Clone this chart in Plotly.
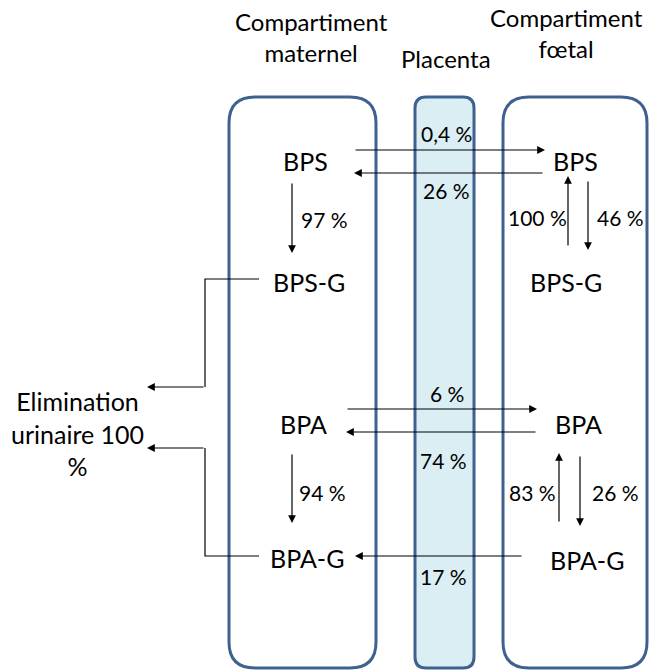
import plotly.graph_objects as go

# ---- data ----
compartments = ["Compartiment<br>maternel", "Placenta", "Compartiment<br>fœtal"]
maternal_species = ["BPS", "BPS-G", "BPA", "BPA-G"]
fetal_species = ["BPS", "BPS-G", "BPA", "BPA-G"]
transfer_labels = ["0,4 %", "26 %", "6 %", "74 %", "17 %"]
maternal_conj = ["97 %", "94 %"]
fetal_deconj = ["100 %", "83 %"]
fetal_conj = ["46 %", "26 %"]
elimination_label = "Elimination<br>urinaire 100<br>%"

W, H = 649, 672
BORDER = "#3F6190"
FONT = "Lato"
SP = 25    # species font size
PC = 21    # percentage font size
TT = 24    # title font size

fig = go.Figure()
fig.add_trace(go.Scatter(x=[0, W], y=[0, H], mode="markers", marker=dict(opacity=0),
                         hoverinfo="skip", showlegend=False))


def rrect(x0, y0, x1, y1, r):
    return (f"M {x0+r},{y0} L {x1-r},{y0} Q {x1},{y0} {x1},{y0+r} "
            f"L {x1},{y1-r} Q {x1},{y1} {x1-r},{y1} L {x0+r},{y1} "
            f"Q {x0},{y1} {x0},{y1-r} L {x0},{y0+r} Q {x0},{y0} {x0+r},{y0} Z")


shapes = [
    dict(type="path", path=rrect(229, 97, 376, 668, 26), line=dict(color=BORDER, width=3), fillcolor="rgba(0,0,0,0)"),
    dict(type="path", path=rrect(415, 97, 474, 668, 11), line=dict(color=BORDER, width=3), fillcolor="#DAEEF3"),
    dict(type="path", path=rrect(503, 97, 647, 668, 26), line=dict(color=BORDER, width=3), fillcolor="rgba(0,0,0,0)"),
    # elimination elbow lines
    dict(type="path", path="M 259,279 L 205,279 L 205,387", line=dict(color="black", width=1.2)),
    dict(type="path", path="M 259,556 L 205,556 L 205,448", line=dict(color="black", width=1.2)),
]

ann = []


def text(x, y, t, size, anchor="center"):
    ann.append(dict(x=x, y=y, text=t, showarrow=False, xanchor=anchor, yanchor="middle",
                    font=dict(family=FONT, size=size, color="black")))


def arrow(x0, y0, x1, y1):
    ann.append(dict(x=x1, y=y1, ax=x0, ay=y0, xref="x", yref="y", axref="x", ayref="y",
                    text="", showarrow=True, arrowhead=2, arrowsize=1.3, arrowwidth=1.2,
                    arrowcolor="black", standoff=0, startstandoff=0))


# titles
text(311, 37, compartments[0], TT)
text(446, 58, compartments[1], TT)
text(566, 33, compartments[2], TT)

# species
mys = [161, 282, 424, 558]
fys = [161, 282, 424, 560]
mx = [305, 309, 303, 307]
fx = [575, 566, 578, 587]
for i in range(4):
    text(mx[i], mys[i], maternal_species[i], SP)
    text(fx[i], fys[i], fetal_species[i], SP)

# transfers
arrow(354, 150, 545, 150)
arrow(544, 173, 354, 173)
text(446, 133, transfer_labels[0], PC)
text(446, 190, transfer_labels[1], PC)
arrow(346, 409, 537, 409)
arrow(537, 432, 346, 432)
text(447, 393, transfer_labels[2], PC)
text(443, 460, transfer_labels[3], PC)
arrow(523, 556, 355, 556)
text(443, 576, transfer_labels[4], PC)

# maternal conjugation
arrow(292, 182, 292, 253)
text(324, 219, maternal_conj[0], PC)
arrow(292, 453, 292, 523)
text(322, 492, maternal_conj[1], PC)

# fetal
arrow(568, 247, 568, 176)
text(537, 217, fetal_deconj[0], PC)
arrow(588, 180, 588, 250)
text(620, 217, fetal_conj[0], PC)
arrow(559, 523, 559, 453)
text(532, 492, fetal_deconj[1], PC)
arrow(580, 455, 580, 526)
text(615, 492, fetal_conj[1], PC)

# elimination
arrow(205, 387, 147, 387)
arrow(205, 448, 147, 448)
text(77, 433, elimination_label, 25)

fig.update_layout(
    width=W, height=H, margin=dict(l=0, r=0, t=0, b=0),
    plot_bgcolor="white", paper_bgcolor="white",
    xaxis=dict(range=[0, W], visible=False, fixedrange=True),
    yaxis=dict(range=[H, 0], visible=False, fixedrange=True),
    shapes=shapes, annotations=ann, showlegend=False,
)
fig.write_html(
    "out.html",
    config={"displayModeBar": False, "staticPlot": True},
    post_script="document.body.style.margin='0';document.body.style.overflow='hidden';",
)
